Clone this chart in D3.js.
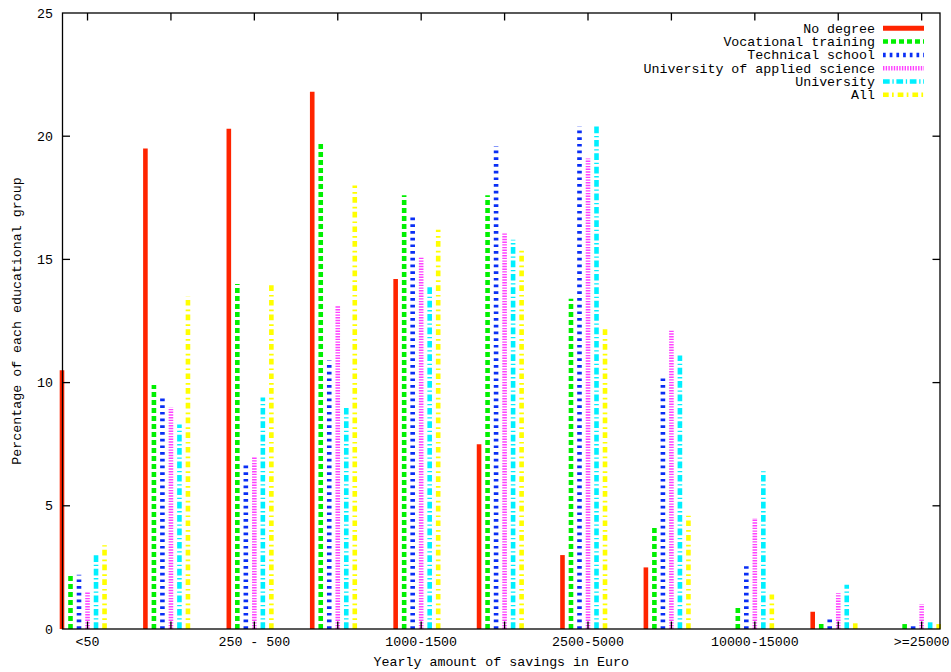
<!DOCTYPE html>
<html>
<head>
<meta charset="utf-8">
<script src="https://cdn.jsdelivr.net/npm/d3@7"></script>
<style>
  html, body { margin: 0; padding: 0; background: #fff; }
  svg { display: block; }
  text { font-family: "Liberation Mono", "DejaVu Sans Mono", monospace; font-size: 13.3px; fill: #000; }
</style>
</head>
<body>
<svg id="chart" width="951" height="672"></svg>
<script>
// Savings brackets (x axis), only every other bracket carries a label
const categories = ["<50", "50-250", "250 - 500", "500-1000", "1000-1500", "1500-2500",
                    "2500-5000", "5000-10000", "10000-15000", "15000-25000", ">=25000"];
const tickLabels = ["<50", "", "250 - 500", "", "1000-1500", "", "2500-5000", "", "10000-15000", "", ">=25000"];

// Series names and share (%) of each educational group per bracket
const seriesNames = ["No degree", "Vocational training", "Technical school",
                     "University of applied science", "University", "All"];
const noDegree    = [10.5, 19.5, 20.3, 21.8, 14.2, 7.5, 3.0, 2.5, 0.0, 0.7, 0.0];
const vocational  = [2.15, 9.9, 14.0, 19.7, 17.6, 17.6, 13.4, 4.1, 0.85, 0.25, 0.2];
const technical   = [2.2, 9.5, 6.7, 10.9, 16.7, 19.6, 20.4, 10.2, 2.55, 0.4, 0.25];
const appliedSci  = [1.5, 9.0, 7.0, 13.1, 15.1, 16.1, 19.1, 12.1, 4.5, 1.45, 1.0];
const university  = [3.1, 8.3, 9.4, 9.0, 13.9, 15.8, 20.4, 11.1, 6.4, 1.8, 0.3];
const allGroups   = [3.4, 13.5, 14.0, 18.0, 16.2, 15.4, 12.3, 4.6, 1.4, 0.3, 0.2];

const yTicks = [0, 5, 10, 15, 20, 25];

const seriesValues = [noDegree, vocational, technical, appliedSci, university, allGroups];

// Line styles for each series: colour and dash pattern
const styles = [
  { color: "#ff2400", dash: null },
  { color: "#00f000", dash: "5,3" },
  { color: "#0a2ff5", dash: "2.7,4" },
  { color: "#ff40ff", dash: "1.4,1.3" },
  { color: "#00f0ff", dash: "6.7,2.7,1.3,2.7" },
  { color: "#ffff00", dash: "5.7,3.3,1.7,4" }
];

const svg = d3.select("#chart");
const plotL = 62.5, plotR = 940, plotT = 13, plotB = 629;

const x = d3.scaleLinear().domain([-0.3, 10.22]).range([plotL, plotR]);
const y = d3.scaleLinear().domain([0, 25]).range([plotB, plotT]);
const barStep = 0.102;   // offset between neighbouring bars, in category units
const barWidth = 4.6;

// Bars: thick vertical dashed strokes rising from zero
const bars = svg.append("g");
seriesValues.forEach((vals, j) => {
  const st = styles[j];
  bars.selectAll(null)
    .data(vals.map((v, i) => ({ i, v })).filter(d => d.v > 0))
    .enter().append("line")
    .attr("x1", d => x(d.i + (j - 3) * barStep))
    .attr("x2", d => x(d.i + (j - 3) * barStep))
    .attr("y1", y(0))
    .attr("y2", d => y(d.v))
    .attr("stroke", st.color)
    .attr("stroke-width", barWidth)
    .attr("stroke-dasharray", st.dash);
});

// Frame and ticks
const axisG = svg.append("g").attr("stroke", "#000").attr("stroke-width", 1.3);
axisG.append("rect")
  .attr("x", plotL).attr("y", plotT)
  .attr("width", plotR - plotL).attr("height", plotB - plotT)
  .attr("fill", "none");

const tickLen = 7.5;
yTicks.forEach(t => {
  if (t === 0 || t === 25) return;
  axisG.append("line").attr("x1", plotL).attr("x2", plotL + tickLen).attr("y1", y(t)).attr("y2", y(t));
  axisG.append("line").attr("x1", plotR).attr("x2", plotR - tickLen).attr("y1", y(t)).attr("y2", y(t));
});
categories.forEach((c, i) => {
  axisG.append("line").attr("x1", x(i)).attr("x2", x(i)).attr("y1", plotT).attr("y2", plotT + tickLen);
  axisG.append("line").attr("x1", x(i)).attr("x2", x(i)).attr("y1", plotB).attr("y2", plotB - tickLen);
});

// Y tick labels
svg.append("g").selectAll("text")
  .data(yTicks).enter().append("text")
  .attr("x", 53).attr("y", d => y(d) + 4.5)
  .attr("text-anchor", "end")
  .text(d => d);

// X tick labels
svg.append("g").selectAll("text")
  .data(tickLabels).enter().append("text")
  .attr("x", (d, i) => x(i)).attr("y", 646)
  .attr("text-anchor", "middle")
  .text(d => d);

// Axis titles
svg.append("text")
  .attr("x", (plotL + plotR) / 2).attr("y", 666)
  .attr("text-anchor", "middle")
  .text("Yearly amount of savings in Euro");
svg.append("text")
  .attr("transform", `translate(21,${(plotT + plotB) / 2}) rotate(-90)`)
  .attr("text-anchor", "middle")
  .text("Percentage of each educational group");

// Legend
const legend = svg.append("g");
seriesNames.forEach((name, j) => {
  const ly = 28.3 + j * 13.3;
  legend.append("text")
    .attr("x", 875).attr("y", ly + 4.5)
    .attr("text-anchor", "end")
    .text(name);
  legend.append("line")
    .attr("x1", 883).attr("x2", 924)
    .attr("y1", ly).attr("y2", ly)
    .attr("stroke", styles[j].color)
    .attr("stroke-width", j === 0 ? 5 : 4.5)
    .attr("stroke-dasharray", styles[j].dash);
});
</script>
</body>
</html>
